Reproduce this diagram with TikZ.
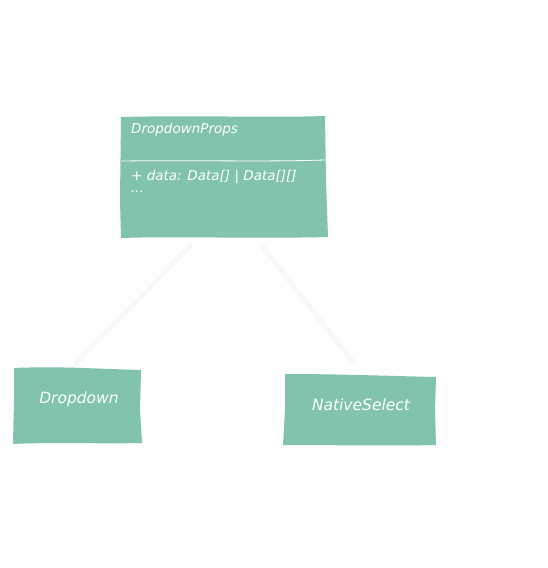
\documentclass[tikz,border=0pt]{standalone}
\usepackage{fontspec}
\newfontfamily\handfont{DejaVu Sans}
\definecolor{boxfill}{HTML}{82C3AC}
\definecolor{linkcol}{HTML}{F8F8F8}
\begin{document}
\begin{tikzpicture}[x=1pt,y=-1pt,
  boxtext/.style={text=white,inner sep=0pt},
  smalltext/.style={boxtext,anchor=west,font=\handfont\itshape\fontsize{13.5}{15}\selectfont},
  bigtext/.style={boxtext,font=\handfont\itshape\fontsize{15.5}{17}\selectfont},
  link/.style={draw=linkcol,line width=5pt,line cap=round}]
\useasboundingbox (0,0) rectangle (547,568);
\fill[white] (0,0) rectangle (547,568);
% DropdownProps
\fill[boxfill] (121,117) .. controls (200,115) and (260,118) .. (325,116)
  -- (326,180) -- (328,237) .. controls (250,239) and (180,236) .. (121,238)
  -- (120,200) -- cycle;
\draw[white,line width=0.8pt] (121,161) .. controls (200,160) and (260,162) .. (325,160);
\node[smalltext] (propsTitle) at (131,130) {DropdownProps};
\node[smalltext] (propsAttr) at (131,177) {+ data: Data[] | Data[][]};
\node[smalltext] (propsDots) at (131,192) {...};
\coordinate (props) at (224,177);
% Dropdown
\fill[boxfill] (14,368) .. controls (60,366) and (100,369) .. (141,370)
  -- (140,410) -- (142,443) .. controls (100,444) and (50,442) .. (13,444)
  -- (14,400) -- cycle;
\node[bigtext] (dropdown) at (79,399) {Dropdown};
% NativeSelect
\fill[boxfill] (285,374) .. controls (340,374) and (390,376) .. (436,377)
  -- (435,410) -- (436,445) .. controls (390,446) and (330,445) .. (283,445)
  -- (285,410) -- cycle;
\node[bigtext] (nativeSel) at (361,405) {NativeSelect};
% connectors
\coordinate (propsBL) at (190,246);
\coordinate (propsBR) at (262,246);
\coordinate (dropTop) at (76,363);
\coordinate (natTop) at (353,362);
\draw[link] (propsBL) -- (dropTop);
\draw[link] (propsBR) -- (natTop);
\end{tikzpicture}
\end{document}
